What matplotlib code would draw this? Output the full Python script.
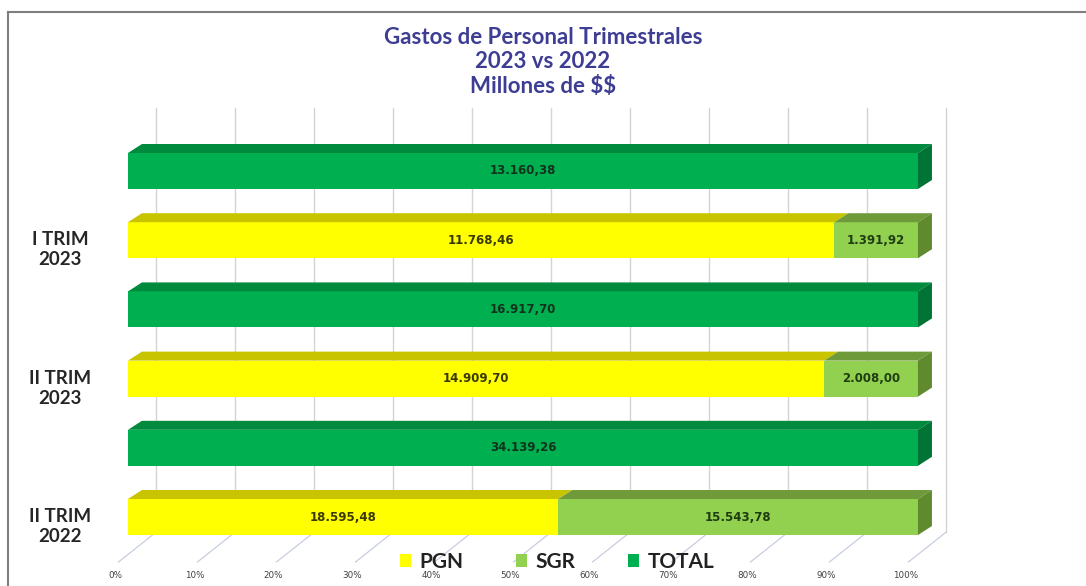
"""Gastos de Personal Trimestrales: 100% stacked horizontal bars with a faux-3D look."""

import matplotlib
matplotlib.use("Agg")

import matplotlib.pyplot as plt
from matplotlib.lines import Line2D
from matplotlib.patches import Polygon

# bottom to top, as matplotlib stacks the categories
categories = ["II TRIM\n2022", "II TRIM\n2023", "I TRIM\n2023"]
pgn = [18595.48, 14909.70, 11768.46]
sgr = [15543.78, 2008.00, 1391.92]
total = [34139.26, 16917.70, 13160.38]
tick_labels = ["0%", "10%", "20%", "30%", "40%", "50%", "60%", "70%", "80%", "90%", "100%"]

TITLE = "Gastos de Personal Trimestrales\n2023 vs 2022\nMillones de $$"
FONT = "Lato"

# front / top / side face colours
COLORS = {
    "PGN": ("#ffff00", "#c9c400", "#a9a500"),
    "SGR": ("#92d050", "#6f9a3a", "#5f8a2e"),
    "TOTAL": ("#00b050", "#008a3e", "#007434"),
}

BAR_H = 0.52
DEPTH_X, DEPTH_Y = 0.0177, 0.13   # bar depth
WALL_X = 0.0354                   # back wall offset
FLOOR_Y = -0.22


def fmt_es(v):
    s = f"{v:,.2f}"
    return s.replace(",", "X").replace(".", ",").replace("X", ".")


def add_depth(ax, rects, colors, side=True):
    _, top_c, side_c = colors
    for r in rects:
        x0, y0, w, h = r.get_x(), r.get_y(), r.get_width(), r.get_height()
        x1, y1 = x0 + w, y0 + h
        ax.add_patch(Polygon([(x0, y1), (x0 + DEPTH_X, y1 + DEPTH_Y),
                              (x1 + DEPTH_X, y1 + DEPTH_Y), (x1, y1)],
                             closed=True, facecolor=top_c, edgecolor="none", zorder=3))
        if side:
            ax.add_patch(Polygon([(x1, y0), (x1, y1), (x1 + DEPTH_X, y1 + DEPTH_Y),
                                  (x1 + DEPTH_X, y0 + DEPTH_Y)],
                                 closed=True, facecolor=side_c, edgecolor="none", zorder=3))


fig = plt.figure(figsize=(10.86, 5.86), dpi=100)
ax = fig.add_axes([0, 0, 1, 1])
ax.set_xlim(-0.162, 1.2127)
ax.set_ylim(-0.997, 7.471)
ax.axis("off")

n = len(categories)
y_split = [2 * i for i in range(n)]
y_total = [2 * i + 1 for i in range(n)]
pgn_frac = [p / t for p, t in zip(pgn, total)]
sgr_frac = [s / t for s, t in zip(sgr, total)]
tot_frac = [t / t for t in total]

# back wall gridlines and slanted floor lines
for k, lab in enumerate(tick_labels):
    xv = k / 10
    ax.plot([xv + WALL_X, xv + WALL_X], [5.91, FLOOR_Y], color="#d4d4d4", lw=1.0, zorder=1)
    ax.plot([xv + WALL_X, xv - 0.012], [FLOOR_Y, -0.65], color="#c8cde0", lw=0.9, zorder=1)
    ax.text(xv - 0.016, -0.84, lab, ha="center", va="center", fontsize=6.3,
            color="#404040", family="DejaVu Sans")

b_pgn = ax.barh(y_split, pgn_frac, height=BAR_H, color=COLORS["PGN"][0], label="PGN", zorder=2)
b_sgr = ax.barh(y_split, sgr_frac, left=pgn_frac, height=BAR_H, color=COLORS["SGR"][0],
                label="SGR", zorder=2)
b_tot = ax.barh(y_total, tot_frac, height=BAR_H, color=COLORS["TOTAL"][0], label="TOTAL", zorder=2)

add_depth(ax, b_pgn, COLORS["PGN"], side=False)
add_depth(ax, b_sgr, COLORS["SGR"])
add_depth(ax, b_tot, COLORS["TOTAL"])

# data labels
lab_kw = dict(ha="center", va="center", fontsize=8.5, fontweight="bold",
              family="DejaVu Sans", zorder=4)
for rects, vals, col in [(b_pgn, pgn, "#3a3a00"), (b_sgr, sgr, "#1f3d12"),
                         (b_tot, total, "#10331c")]:
    for r, v in zip(rects, vals):
        ax.text(r.get_x() + r.get_width() / 2, r.get_y() + r.get_height() / 2,
                fmt_es(v), color=col, **lab_kw)

# category labels
for yv, cat in zip(y_split, categories):
    ax.text(-0.086, yv - 0.14, cat, ha="center", va="center", fontsize=13.5,
            fontweight="bold", family=FONT, color="#262626", linespacing=1.2)

fig.text(0.5, 1 - 62 / 586, TITLE, ha="center", va="center", fontsize=16,
         fontweight="bold", family=FONT, color="#3d3d94", linespacing=1.18,
         parse_math=False)

ax.legend(handles=[b_pgn, b_sgr, b_tot], loc="center",
          bbox_to_anchor=(557 / 1086, 1 - 562 / 586), bbox_transform=fig.transFigure,
          ncol=3, frameon=False, prop=dict(family=FONT, weight="bold", size=15),
          handlelength=0.55, handleheight=0.55, handletextpad=0.4, columnspacing=2.5,
          labelcolor="#222222")

# chart frame (top and left edges visible in the crop)
fig.add_artist(Line2D([8 / 1086, 1.0], [1 - 12 / 586, 1 - 12 / 586], color="#7f7f7f", lw=1.5))
fig.add_artist(Line2D([8 / 1086, 8 / 1086], [0.0, 1 - 12 / 586], color="#7f7f7f", lw=1.5))

fig.savefig("out.png", dpi=100)
plt.close(fig)
